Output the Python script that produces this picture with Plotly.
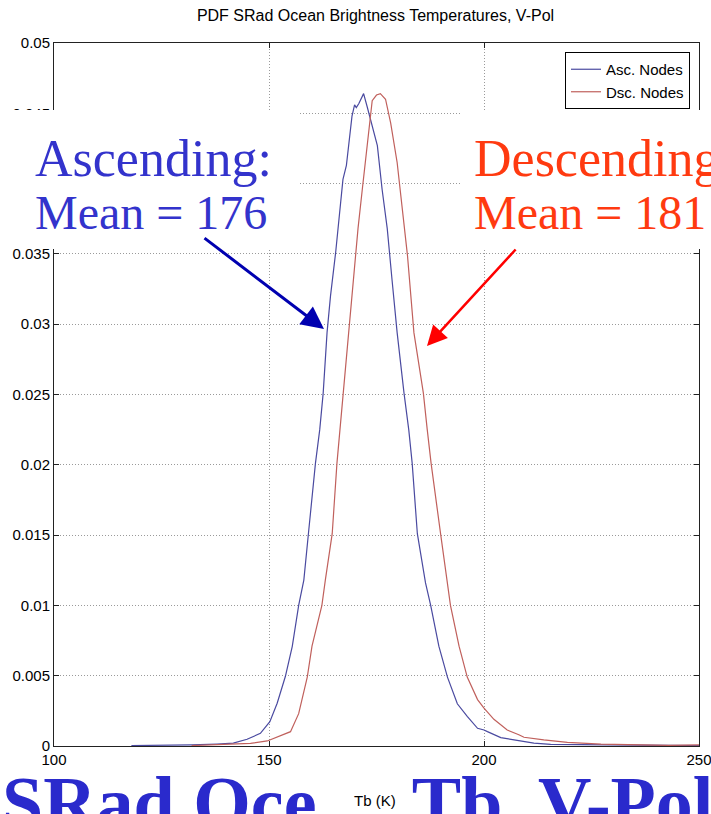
import plotly.graph_objects as go

# ---------------- data ----------------
asc_tb = [118, 125, 132, 137.9, 141.7, 144.9, 148.0, 150.2, 151.9, 153.8, 155.4, 156.9,
          158.1, 159.2, 160.8, 161.8, 162.6, 163.5, 164.3, 165.5, 166.5, 167.2, 168.0,
          169.0, 169.3, 169.9, 170.3, 170.9, 172.0, 172.8, 173.6, 175.2, 176.3, 177.5,
          178.6, 179.8, 181.4, 182.5, 183.3, 184.5, 186.4, 187.6, 189.5, 191.5, 193.8,
          196.1, 198.5, 200.0, 200.8, 203.9, 207.0, 211.6, 215.5, 223, 232, 240, 250]
asc_pdf = [0.00003, 0.00005, 0.00008, 0.00014, 0.0002, 0.00048, 0.0009, 0.00173, 0.00304,
           0.00494, 0.00707, 0.0100, 0.0118, 0.0152, 0.0201, 0.0225, 0.0251, 0.0294,
           0.0320, 0.0351, 0.0380, 0.0403, 0.0413, 0.0439, 0.0448, 0.0456, 0.0454,
           0.0457, 0.0464, 0.0455, 0.0446, 0.0427, 0.0396, 0.0368, 0.0332, 0.0294,
           0.0251, 0.0225, 0.0201, 0.0151, 0.0116, 0.0100, 0.0071, 0.0049, 0.0030,
           0.0021, 0.00126, 0.00114, 0.00102, 0.00060, 0.00043, 0.0002, 0.00012,
           0.0001, 0.00005, 0.00004, 0.00002]

dsc_tb = [132, 137, 141.7, 145.7, 149.6, 151.9, 155.0, 156.9, 158.9, 160.0, 162.3, 163.1,
          164.7, 165.8, 166.5, 167.2, 168.6, 169.7, 170.7, 171.7, 172.8, 173.6, 174.0,
          175.0, 175.9, 177.1, 178.3, 179.8, 181.0, 182.2, 183.7, 185.9, 186.8, 187.7,
          189.9, 191.8, 192.2, 194.2, 196.1, 198.5, 200.0, 202.3, 205.4, 208.1, 209.3,
          213.9, 219.4, 227.2, 235, 243, 250]
dsc_pdf = [0.00003, 0.00008, 0.00012, 0.00019, 0.00036, 0.00066, 0.00102, 0.0023, 0.0049,
           0.0071, 0.0100, 0.0118, 0.0151, 0.0201, 0.0225, 0.0251, 0.0296, 0.0332,
           0.0368, 0.0396, 0.0427, 0.0446, 0.0459, 0.0463, 0.0464, 0.0460, 0.0443,
           0.0415, 0.0384, 0.0349, 0.0294, 0.0251, 0.0225, 0.0201, 0.0151, 0.0111,
           0.0100, 0.0071, 0.0049, 0.0033, 0.0027, 0.0019, 0.00114, 0.0008, 0.00062,
           0.00043, 0.00026, 0.00014, 0.00007, 0.00005, 0.00008]

x_ticks = [100, 150, 200, 250]
y_ticks = [0, 0.005, 0.01, 0.015, 0.02, 0.025, 0.03, 0.035, 0.04, 0.045, 0.05]
y_ticktext = ["0", "0.005", "0.01", "0.015", "0.02", "0.025", "0.03", "0.035", "0.04", "0.045", "0.05"]

series_names = ["Asc. Nodes", "Dsc. Nodes"]
title_text = "PDF SRad Ocean Brightness Temperatures, V-Pol"
xaxis_title = "Tb (K)"
asc_lines = ["Ascending:", "Mean = 176"]
dsc_lines = ["Descending:", "Mean = 181"]
slide_title = "SRad Ocean Tb, V-Pol"

# ---------------- layout geometry ----------------
W, H = 711, 814
L, R, T, B = 54, 12, 43, 68
PW, PH = W - L - R, H - T - B


def px(x):
    return (x - L) / PW


def py(y):
    return (H - B - y) / PH


fig = go.Figure()
fig.add_trace(go.Scatter(x=asc_tb, y=asc_pdf, mode="lines", name=series_names[0],
                         line=dict(color="#4a4aa0", width=1.2)))
fig.add_trace(go.Scatter(x=dsc_tb, y=dsc_pdf, mode="lines", name=series_names[1],
                         line=dict(color="#c0605c", width=1.2)))

sans = "Liberation Sans, Arial, sans-serif"
axis_font = dict(family=sans, size=15, color="black")

grid = dict(showgrid=True, gridcolor="#9a9a9a", griddash="1px,2px", gridwidth=1,
            showline=True, linecolor="#222222", linewidth=1, mirror="allticks",
            ticks="inside", ticklen=5, tickcolor="#222222", tickfont=axis_font,
            zeroline=False, automargin=False, ticklabeloverflow="allow")

fig.update_layout(
    width=W, height=H,
    margin=dict(l=L, r=R, t=T, b=B),
    paper_bgcolor="white", plot_bgcolor="white",
    showlegend=True,
    title=dict(text=title_text, x=375.5 / W, xref="container", xanchor="center",
               y=1 - 15 / H, yref="container", yanchor="middle", automargin=False,
               font=dict(family=sans, size=16, color="black")),
    legend=dict(x=px(690), xanchor="right", y=py(52), yanchor="top",
                bgcolor="white", bordercolor="black", borderwidth=1,
                font=dict(family=sans, size=15, color="black"),
                tracegroupgap=0),
    xaxis=dict(range=[100, 250], tickvals=x_ticks, ticktext=[str(v) for v in x_ticks], **grid),
    yaxis=dict(range=[0, 0.05], tickvals=y_ticks, ticktext=y_ticktext, **grid),
)

# white panels behind the big labels
fig.add_shape(type="rect", xref="paper", yref="paper", x0=px(8), x1=px(300),
              y0=py(249), y1=py(110), fillcolor="white", line=dict(width=0), layer="above")
fig.add_shape(type="rect", xref="paper", yref="paper", x0=px(462), x1=px(720),
              y0=py(249), y1=py(110), fillcolor="white", line=dict(width=0), layer="above")

serif = "Liberation Serif, Times New Roman, serif"

# big slide title cut off at the bottom
fig.add_annotation(text="<b>" + slide_title + "</b>", xref="paper", yref="paper",
                   x=px(0), y=py(760), xanchor="left", yanchor="top", showarrow=False,
                   font=dict(family=serif, size=74, color="#2a2acc"))

# white patch around the axis title (covers part of the slide title)
fig.add_annotation(text=" ", xref="paper", yref="paper", x=px(317), y=py(772),
                   xanchor="left", yanchor="top", showarrow=False, width=91, height=52,
                   bgcolor="white", borderpad=0, font=dict(size=10))
fig.add_annotation(text=xaxis_title, xref="paper", yref="paper", x=px(375), y=py(800),
                   xanchor="center", yanchor="middle", showarrow=False,
                   font=axis_font)

# the two big labels, one line per annotation
for lines, x0, color in [(asc_lines, 33, "#3333cc"), (dsc_lines, 472, "#ff3a10")]:
    fig.add_annotation(text=lines[0], xref="paper", yref="paper", x=px(x0), y=py(128),
                       xanchor="left", yanchor="top", showarrow=False,
                       font=dict(family=serif, size=52, color=color))
    fig.add_annotation(text=lines[1], xref="paper", yref="paper", x=px(x0), y=py(184),
                       xanchor="left", yanchor="top", showarrow=False,
                       font=dict(family=serif, size=48, color=color))

# arrows
fig.add_annotation(text="", xref="paper", yref="paper", x=px(324), y=py(329),
                   axref="pixel", ayref="pixel", ax=203 - 324, ay=237 - 329,
                   showarrow=True, arrowhead=2, arrowsize=1.5, arrowwidth=3,
                   arrowcolor="#0000b0")
fig.add_annotation(text="", xref="paper", yref="paper", x=px(427), y=py(346),
                   axref="pixel", ayref="pixel", ax=517 - 427, ay=248 - 346,
                   showarrow=True, arrowhead=2, arrowsize=1.6, arrowwidth=2.5,
                   arrowcolor="#ff0000")

fig.write_html("out.html", config={"displayModeBar": False},
               post_script="document.body.style.margin='0';document.body.style.overflow='hidden';")
